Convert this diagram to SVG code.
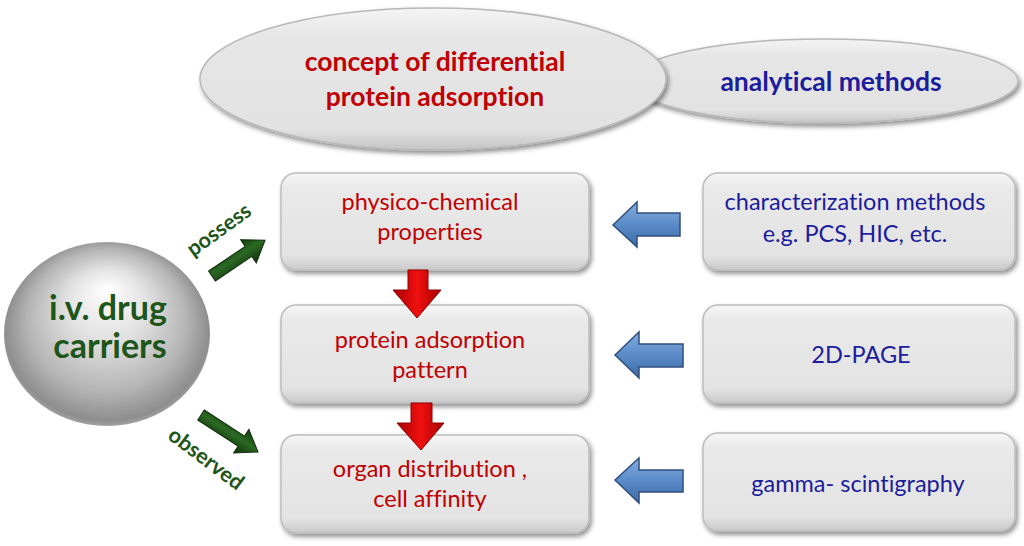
<svg xmlns="http://www.w3.org/2000/svg" width="1024" height="546" viewBox="0 0 1024 546">
<defs>
<style>
text{font-variant-ligatures:none;font-feature-settings:"liga" 0}
.box{fill:url(#boxg);stroke:#BDBDBD;stroke-width:1.5;filter:url(#sh)}
.ell{fill:url(#ellg);stroke:#B8B8B8;stroke-width:1.5;filter:url(#sh)}
.red{font-family:Lato,"Liberation Sans",sans-serif;font-size:23.5px;fill:#C00000;text-anchor:middle}
.blue{font-family:Lato,"Liberation Sans",sans-serif;font-size:23.5px;fill:#1C1C9C;text-anchor:middle}
.title{font-family:Lato,"Liberation Sans",sans-serif;font-weight:bold;text-anchor:middle}
.green{font-family:Lato,"Liberation Sans",sans-serif;font-weight:bold;fill:#1D551A;text-anchor:middle}
.rarr{fill:url(#redg);stroke:#8E0000;stroke-width:1}
.barr{fill:url(#blueg);stroke:#2F4F7F;stroke-width:1.5}
.garr{fill:url(#greeng);stroke:#0F300B;stroke-width:1}
</style>
<filter id="sh" x="-10%" y="-10%" width="125%" height="130%">
<feGaussianBlur in="SourceAlpha" stdDeviation="2.5"/>
<feOffset dx="2" dy="3" result="b"/>
<feComponentTransfer><feFuncA type="linear" slope="0.45"/></feComponentTransfer>
<feMerge><feMergeNode/><feMergeNode in="SourceGraphic"/></feMerge>
</filter>
<linearGradient id="boxg" x1="0" y1="0" x2="0" y2="1">
<stop offset="0" stop-color="#F6F6F6"/>
<stop offset="0.15" stop-color="#E9E9E9"/>
<stop offset="0.85" stop-color="#E3E3E3"/>
<stop offset="1" stop-color="#C9C9C9"/>
</linearGradient>
<linearGradient id="ellg" x1="0" y1="0" x2="0" y2="1">
<stop offset="0" stop-color="#F4F4F4"/>
<stop offset="0.2" stop-color="#E6E6E6"/>
<stop offset="0.85" stop-color="#E2E2E2"/>
<stop offset="1" stop-color="#C4C4C4"/>
</linearGradient>
<radialGradient id="sphg" cx="0.5" cy="0.5" r="0.55" fx="0.5" fy="0.25">
<stop offset="0" stop-color="#FFFFFF"/>
<stop offset="0.35" stop-color="#E2E2E2"/>
<stop offset="0.7" stop-color="#B5B5B5"/>
<stop offset="0.9" stop-color="#8E8E8E"/>
<stop offset="1" stop-color="#C0C0C0"/>
</radialGradient>
<linearGradient id="redg" x1="0" y1="0" x2="1" y2="0">
<stop offset="0" stop-color="#A80000"/>
<stop offset="0.5" stop-color="#F01010"/>
<stop offset="1" stop-color="#A80000"/>
</linearGradient>
<linearGradient id="blueg" x1="0" y1="0" x2="0" y2="1">
<stop offset="0" stop-color="#86AEDF"/>
<stop offset="0.5" stop-color="#5A8BC8"/>
<stop offset="1" stop-color="#3D6BA6"/>
</linearGradient>
<linearGradient id="greeng" x1="0" y1="0" x2="0" y2="1">
<stop offset="0" stop-color="#123A0E"/>
<stop offset="0.45" stop-color="#2C6A24"/>
<stop offset="1" stop-color="#0E2E0A"/>
</linearGradient>
</defs>
<rect width="1024" height="546" fill="#FFFFFF"/>

<g id="analytical-methods">
<ellipse class="ell" cx="824" cy="81" rx="194" ry="42"/>
<text class="title" x="831" y="91" font-size="26.5" fill="#1C1C9C">analytical methods</text>
</g>
<g id="concept">
<ellipse class="ell" cx="433" cy="79" rx="233" ry="71"/>
<text class="title" x="435" y="71" font-size="26.5" fill="#C00000">concept of differential</text>
<text class="title" x="435" y="106" font-size="26.5" fill="#C00000">protein adsorption</text>
</g>

<g id="carriers">
<ellipse cx="107" cy="334" rx="103" ry="92" fill="url(#sphg)"/>
<text class="green" x="108" y="320" font-size="34">i.v. drug</text>
<text class="green" x="110" y="358" font-size="34">carriers</text>
</g>

<g id="physico">
<rect class="box" x="281" y="173" width="308" height="97" rx="15"/>
<text class="red" x="430" y="210">physico-chemical</text>
<text class="red" x="430" y="240">properties</text>
</g>
<g id="adsorption">
<rect class="box" x="281" y="305" width="308" height="98" rx="15"/>
<text class="red" x="430" y="348">protein adsorption</text>
<text class="red" x="430" y="378">pattern</text>
</g>
<g id="organ">
<rect class="box" x="281" y="435" width="308" height="98" rx="15"/>
<text class="red" x="430" y="477">organ distribution ,</text>
<text class="red" x="430" y="507">cell affinity</text>
</g>

<g id="characterization">
<rect class="box" x="703" y="173" width="312" height="97" rx="15"/>
<text class="blue" x="855" y="210">characterization methods</text>
<text class="blue" x="855" y="242">e.g. PCS, HIC, etc.</text>
</g>
<g id="page">
<rect class="box" x="703" y="305" width="312" height="98" rx="15"/>
<text class="blue" x="861" y="363">2D-PAGE</text>
</g>
<g id="gamma">
<rect class="box" x="703" y="433" width="312" height="98" rx="15"/>
<text class="blue" x="858" y="492">gamma- scintigraphy</text>
</g>

<g id="connectors">
<path class="rarr" d="M408,270 H428 V290 H441 L417,318 L393,290 H408 Z"/>
<path class="rarr" d="M411,403 H432 V423 H444 L421,450 L397,423 H411 Z"/>
<path class="barr" d="M613,225 L637,202 V213 H680 V236 H637 V247 Z"/>
<path class="barr" d="M615,355 L639,332 V344 H683 V367 H639 V378 Z"/>
<path class="barr" d="M615,480 L639,458 V470 H683 V492 H639 V503 Z"/>
<path class="garr" transform="translate(212,276) rotate(-34)" d="M0,-6 H44 V-14 L64,0 L44,14 V6 H0 Z"/>
<path class="garr" transform="translate(201,415) rotate(33)" d="M0,-6 H48 V-14 L68,0 L48,14 V6 H0 Z"/>
<text class="green" font-size="21.5" font-weight="900" transform="translate(219,230) rotate(-36)" y="7">possess</text>
<text class="green" font-size="21.5" font-weight="900" transform="translate(206,459) rotate(37)" y="7">observed</text>
</g>
</svg>
